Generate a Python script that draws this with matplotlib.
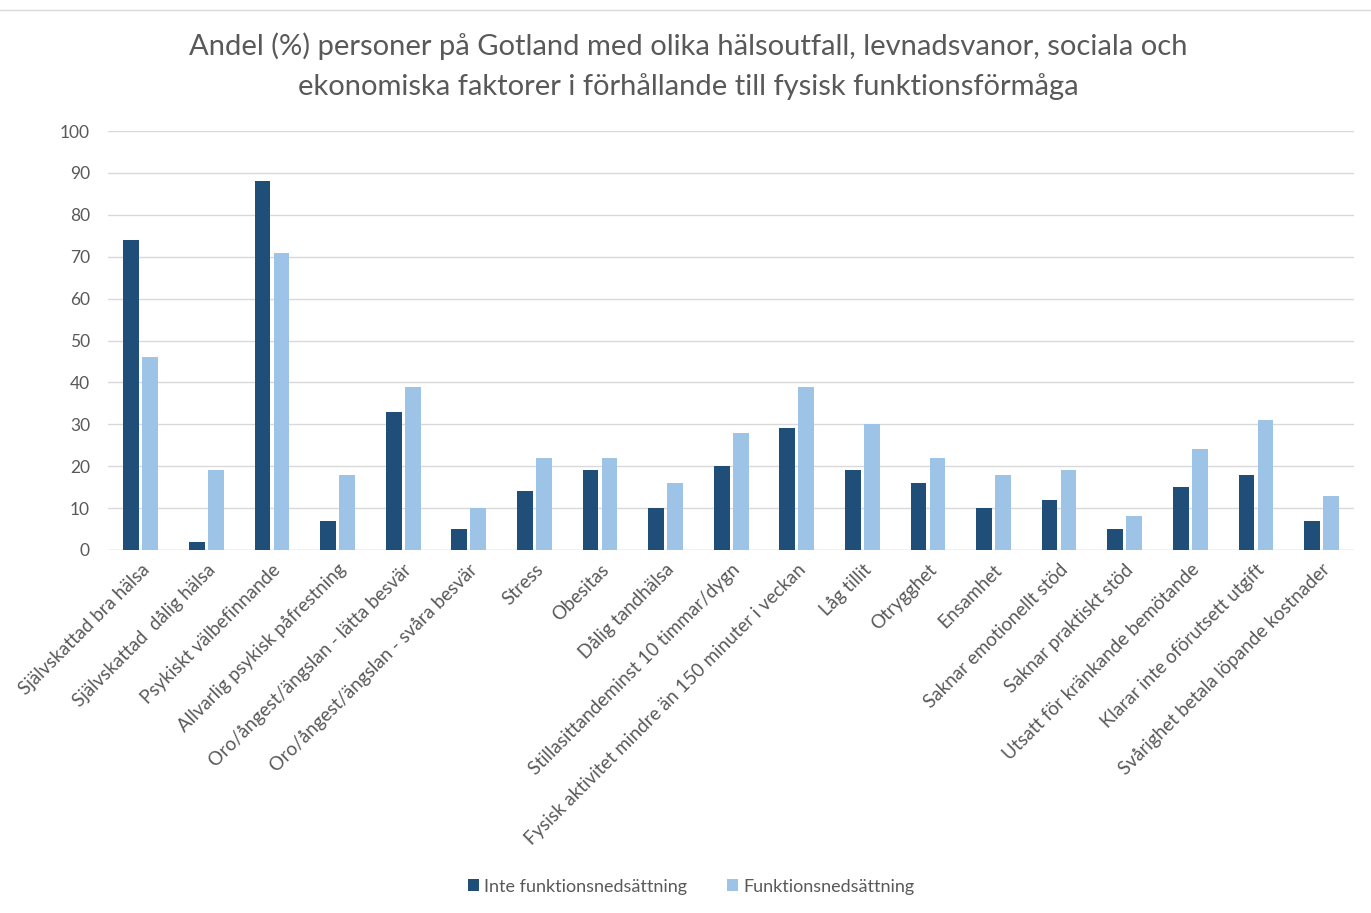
import matplotlib
matplotlib.use("Agg")
import matplotlib.pyplot as plt
import numpy as np

categories = [
    "Självskattad bra hälsa", "Självskattad  dålig hälsa", "Psykiskt välbefinnande",
    "Allvarlig psykisk påfrestning", "Oro/ångest/ängslan - lätta besvär",
    "Oro/ångest/ängslan - svåra besvär", "Stress", "Obesitas", "Dålig tandhälsa",
    "Stillasittandeminst 10 timmar/dygn", "Fysisk aktivitet mindre än 150 minuter i veckan",
    "Låg tillit", "Otrygghet", "Ensamhet", "Saknar emotionellt stöd",
    "Saknar praktiskt stöd", "Utsatt för kränkande bemötande",
    "Klarar inte oförutsett utgift", "Svårighet betala löpande kostnader",
]
inte_funk = [74, 2, 88, 7, 33, 5, 14, 19, 10, 20, 29, 19, 16, 10, 12, 5, 15, 18, 7]
funk = [46, 19, 71, 18, 39, 10, 22, 22, 16, 28, 39, 30, 22, 18, 19, 8, 24, 31, 13]
series_names = ["Inte funktionsnedsättning", "Funktionsnedsättning"]
yticks = list(range(0, 101, 10))

plt.rcParams['font.family'] = ['Lato', 'DejaVu Sans']

fig = plt.figure(figsize=(13.71, 9.13), dpi=100)
ax = fig.add_axes([0.0788, 0.3976, 0.909, 0.4589])

x = np.arange(len(categories))
w = 0.24
ax.bar(x - 0.145, inte_funk, w, color='#1F4E79', label=series_names[0], zorder=3)
ax.bar(x + 0.145, funk, w, color='#9DC3E6', label=series_names[1], zorder=3)

ax.set_xlim(-0.5, len(categories) - 0.5)
ax.set_ylim(0, 100)
ax.set_yticks(yticks)
ax.yaxis.grid(True, color='#D9D9D9', linewidth=1, zorder=0)
for s in ax.spines.values():
    s.set_visible(False)
ax.axhline(0, color='#D9D9D9', linewidth=1, zorder=1)
ax.tick_params(axis='both', length=0, colors='#595959')
ax.tick_params(axis='y', pad=13, labelsize=12.5)
ax.set_xticks(x)
ax.set_xticklabels(categories, rotation=45, ha='right', rotation_mode='anchor', fontsize=13.5)
ax.tick_params(axis='x', pad=8)

fig.suptitle("Andel (%) personer på Gotland med olika hälsoutfall, levnadsvanor, sociala och\n"
             "ekonomiska faktorer i förhållande till fysisk funktionsförmåga",
             x=0.502, y=0.964, fontsize=21, color='#595959', linespacing=1.55)

fig.legend(loc='center', bbox_to_anchor=(0.504, 0.029), ncol=2, frameon=False,
           fontsize=13, labelcolor='#595959', handlelength=0.6, handleheight=0.6,
           columnspacing=2.2, handletextpad=0.3)

fig.add_artist(plt.Line2D([0, 1], [0.989, 0.989], color='#D9D9D9', linewidth=1))

fig.savefig("out.png", dpi=100)
